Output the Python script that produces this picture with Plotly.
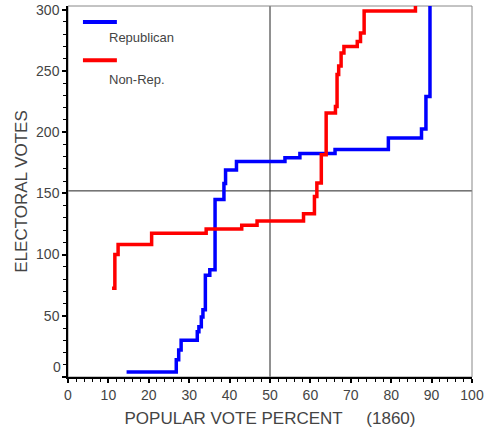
import plotly.graph_objects as go

# Cumulative electoral votes against popular vote percent, 1860 election.
# Each point starts a level of the step line (hv shape).
rep_pct = [14.5, 26.8, 27.4, 28.0, 32.0, 32.4, 33.0, 33.4, 34.0, 35.1, 36.4,
           38.6, 39.0, 41.7, 53.7, 57.4, 66.1, 79.3, 87.5, 88.6, 89.6]
rep_ev = [4, 14, 22, 30, 37, 41, 49, 55, 83, 87.5, 145,
          158, 169, 176, 179, 182.5, 185.7, 195.2, 202.5, 229, 303]

nonrep_pct = [10.9, 11.6, 12.4, 20.7, 34.2, 43.0, 46.8, 58.3, 61.0, 61.6, 62.7,
              63.9, 66.2, 66.6, 67.0, 67.6, 68.3, 71.6, 72.4, 73.3, 86.0]
nonrep_ev = [72.5, 100, 108.3, 117.5, 120.8, 124, 127.5, 133.3, 147.5, 158.4, 181.6,
             215.7, 221, 247, 254, 264.7, 270, 274, 281, 299, 303]

x_ticks = [0, 10, 20, 30, 40, 50, 60, 70, 80, 90, 100]
y_ticks = [0, 50, 100, 150, 200, 250, 300]
y_tick_text = ["", "50", "100", "150", "200", "250", "300"]

majority = 152
half_vote = 50

FONT = "Arial, Liberation Sans, sans-serif"
TXT = "#444444"

fig = go.Figure()
fig.add_trace(go.Scatter(x=rep_pct, y=rep_ev, mode="lines", line_shape="hv",
                         line=dict(color="#0000ff", width=3.5), name="Republican",
                         showlegend=False))
fig.add_trace(go.Scatter(x=nonrep_pct, y=nonrep_ev, mode="lines", line_shape="hv",
                         line=dict(color="#ff0000", width=3.5), name="Non-Rep.",
                         showlegend=False))

# reference lines: 50% of the vote, electoral majority
fig.add_shape(type="line", xref="x", yref="paper", x0=half_vote, x1=half_vote, y0=0, y1=1,
              line=dict(color="#222222", width=1), layer="below")
fig.add_shape(type="line", xref="paper", yref="y", x0=0, x1=1, y0=majority, y1=majority,
              line=dict(color="#222222", width=1), layer="below")
# frame
fig.add_shape(type="rect", xref="paper", yref="paper", x0=0, x1=1, y0=0, y1=1,
              line=dict(color="#888888", width=1), layer="below")

# hand-made legend: line sample with its label underneath
legend_items = [("#0000ff", "Republican", 0.957, 0.914),
                ("#ff0000", "Non-Rep.", 0.854, 0.803)]
for color, label, ly, ty in legend_items:
    fig.add_shape(type="line", xref="paper", yref="paper", x0=0.037, x1=0.121, y0=ly, y1=ly,
                  line=dict(color=color, width=4))
    fig.add_annotation(xref="paper", yref="paper", x=0.0965, y=ty, text=label,
                       showarrow=False, xanchor="left", yanchor="middle",
                       font=dict(family=FONT, size=13, color=TXT))

# the zero label sits a little above the corner
fig.add_annotation(xref="paper", yref="y", x=0, y=8.5, text="0", showarrow=False,
                   xanchor="right", yanchor="middle", xshift=-5,
                   font=dict(family=FONT, size=14, color=TXT))

fig.update_xaxes(range=[0, 100], tickvals=x_ticks, ticks="outside", ticklen=4, tickwidth=2,
                 tickcolor="black", showline=True, linecolor="black", linewidth=1.5,
                 showgrid=False, zeroline=False, automargin=False,
                 minor=dict(dtick=2, ticks="outside", ticklen=3, tickcolor="black", tickwidth=1),
                 tickfont=dict(family=FONT, size=14, color=TXT),
                 title=dict(text="POPULAR VOTE PERCENT\u00a0\u00a0\u00a0\u00a0\u00a0(1860)",
                            font=dict(family=FONT, size=17, color=TXT), standoff=11))
fig.update_yaxes(range=[0, 303], tickvals=y_ticks, ticktext=y_tick_text, ticks="outside",
                 ticklen=4, tickwidth=2, tickcolor="black", showline=True, linecolor="black",
                 linewidth=1.5, showgrid=False, zeroline=False, automargin=False,
                 minor=dict(dtick=10, ticks="outside", ticklen=3, tickcolor="black", tickwidth=1),
                 tickfont=dict(family=FONT, size=14, color=TXT),
                 title=dict(text="ELECTORAL VOTES",
                            font=dict(family=FONT, size=17, color=TXT), standoff=4))

fig.update_layout(width=484, height=434, margin=dict(l=68, r=12, t=6, b=57),
                  paper_bgcolor="white", plot_bgcolor="white", showlegend=False)

fig.write_html("out.html")
